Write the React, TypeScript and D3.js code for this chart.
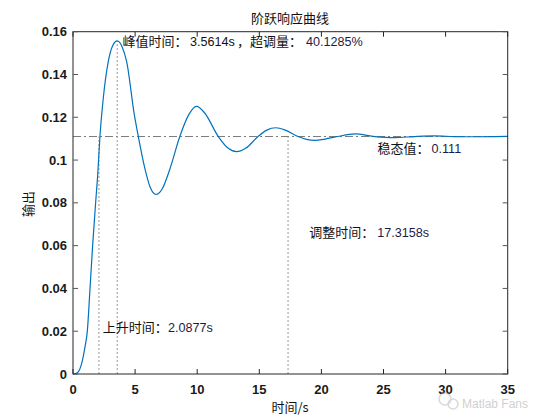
import React from "react";
import * as d3 from "d3";

const times = [0, 0.35, 0.7, 0.97, 1.15, 1.37, 1.58, 1.83, 2.0, 2.17, 2.44, 2.84, 3.2, 3.56, 3.95, 4.32, 4.93, 5.26, 5.8, 6.2, 6.68, 7.2, 7.8, 8.6, 9.3, 9.95, 10.6, 11.7, 12.5, 13.17, 13.9, 14.9, 15.6, 16.33, 17.1, 18.13, 18.8, 19.47, 20.3, 21.3, 22.7, 24.3, 25.9, 27.5, 29.1, 30.7, 32.3, 33.9, 35];
const output = [0, 0.0006, 0.005, 0.0128, 0.0198, 0.04, 0.06, 0.0806, 0.094, 0.111, 0.129, 0.146, 0.1535, 0.1557, 0.153, 0.146, 0.1215, 0.111, 0.0958, 0.0875, 0.0839, 0.0867, 0.0958, 0.111, 0.121, 0.1251, 0.122, 0.111, 0.1055, 0.1039, 0.1055, 0.111, 0.114, 0.1151, 0.114, 0.111, 0.1097, 0.1092, 0.1098, 0.111, 0.1122, 0.111, 0.1105, 0.111, 0.1113, 0.111, 0.1109, 0.111, 0.1111];

const xTicks = [0, 5, 10, 15, 20, 25, 30, 35];
const yTicks = [0, 0.02, 0.04, 0.06, 0.08, 0.1, 0.12, 0.14, 0.16];
const yTickLabels = ["0", "0.02", "0.04", "0.06", "0.08", "0.1", "0.12", "0.14", "0.16"];

const steadyValue = 0.111;
const peakTime = 3.5614;
const peakValue = 0.1557;
const riseTime = 2.0877;
const settleTime = 17.3158;

const W = 560, H = 420;
const L = 73, R = 507.7, T = 31.7, B = 374;

export default function App() {
  const x = d3.scaleLinear().domain([0, 35]).range([L, R]);
  const y = d3.scaleLinear().domain([0, 0.16]).range([B, T]);
  const pts = times.map((t, i) => [t, output[i]] as [number, number]);
  const line = d3.line<[number, number]>().x(d => x(d[0])).y(d => y(d[1])).curve(d3.curveMonotoneX);
  const cjk = "'Noto Sans CJK SC', 'Noto Sans', sans-serif";
  const num = "'Liberation Sans', Arial, sans-serif";
  const tickLen = 5;
  const numColor = "#1c1c48";
  return (
    <svg width={W} height={H} style={{ position: "absolute", left: 0, top: 0, background: "#fff" }}>
      <rect x={0} y={0} width={W} height={H} fill="#fff" />
      {/* reference lines */}
      <line x1={L} x2={R} y1={y(steadyValue)} y2={y(steadyValue)} stroke="#7a7a7a" strokeWidth={1} strokeDasharray="8,3,2,3" />
      <line x1={x(riseTime)} x2={x(riseTime)} y1={B} y2={y(steadyValue)} stroke="#999" strokeWidth={1} strokeDasharray="2,2" />
      <line x1={x(peakTime)} x2={x(peakTime)} y1={B} y2={y(peakValue)} stroke="#999" strokeWidth={1} strokeDasharray="2,2" />
      <line x1={x(settleTime)} x2={x(settleTime)} y1={B} y2={y(steadyValue)} stroke="#999" strokeWidth={1} strokeDasharray="2,2" />
      {/* curve */}
      <path d={line(pts) || ""} fill="none" stroke="#0072BD" strokeWidth={1.2} />
      {/* box */}
      <rect x={L} y={T} width={R - L} height={B - T} fill="none" stroke="#262626" strokeWidth={1} />
      {/* x ticks */}
      {xTicks.map(t => (
        <g key={"x" + t}>
          <line x1={x(t)} x2={x(t)} y1={B} y2={B - tickLen} stroke="#262626" />
          <line x1={x(t)} x2={x(t)} y1={T} y2={T + tickLen} stroke="#262626" />
          <text x={x(t)} y={394} textAnchor="middle" fontFamily={num} fontWeight="bold" fontSize={13} fill="#1a1a1a">{t}</text>
        </g>
      ))}
      {/* y ticks */}
      {yTicks.map((v, i) => (
        <g key={"y" + v}>
          <line x1={L} x2={L + tickLen} y1={y(v)} y2={y(v)} stroke="#555" />
          <line x1={R} x2={R - tickLen} y1={y(v)} y2={y(v)} stroke="#555" />
          <text x={67} y={y(v) + 4.5} textAnchor="end" fontFamily={num} fontWeight="bold" fontSize={13} fill="#1a1a1a">{yTickLabels[i]}</text>
        </g>
      ))}
      {/* title and labels */}
      <text x={290} y={23} textAnchor="middle" fontFamily={cjk} fontSize={13} fill="#111">阶跃响应曲线</text>
      <text x={290} y={412} textAnchor="middle" fontFamily={cjk} fontSize={13} fill="#111">时间/s</text>
      <text transform="translate(33,204) rotate(-90)" textAnchor="middle" fontFamily={cjk} fontSize={13} fill="#111">输出</text>
      {/* annotations */}
      <text x={122.5} y={46} fontFamily={cjk} fontSize={13} fill="#111">峰值时间：<tspan x={190} fill="#111" fontFamily={num} fontSize={12.6}>3.5614s</tspan><tspan x={237}>，超调量：</tspan><tspan x={306} fill={numColor} fontFamily={num} fontSize={12.6}>40.1285%</tspan></text>
      <text x={377.5} y={153} fontFamily={cjk} fontSize={13} fill="#111">稳态值：<tspan x={431.5} fill={numColor} fontFamily={num} fontSize={12.6}>0.111</tspan></text>
      <text x={309.3} y={237} fontFamily={cjk} fontSize={13} fill="#111">调整时间：<tspan x={377.3} fill={numColor} fontFamily={num} fontSize={12.6}>17.3158s</tspan></text>
      <text x={102.7} y={332} fontFamily={cjk} fontSize={13} fill="#111">上升时间：<tspan x={168} fill={numColor} fontFamily={num} fontSize={12.6}>2.0877s</tspan></text>
      {/* watermark */}
      <g opacity={0.55}>
        <circle cx={445} cy={399} r={6} fill="none" stroke="#bbb" strokeWidth={1.5} />
        <circle cx={453} cy={404} r={5} fill="none" stroke="#bbb" strokeWidth={1.5} />
        <text x={462} y={408} fontFamily={num} fontSize={12} fill="#aaa">Matlab Fans</text>
      </g>
    </svg>
  );
}
